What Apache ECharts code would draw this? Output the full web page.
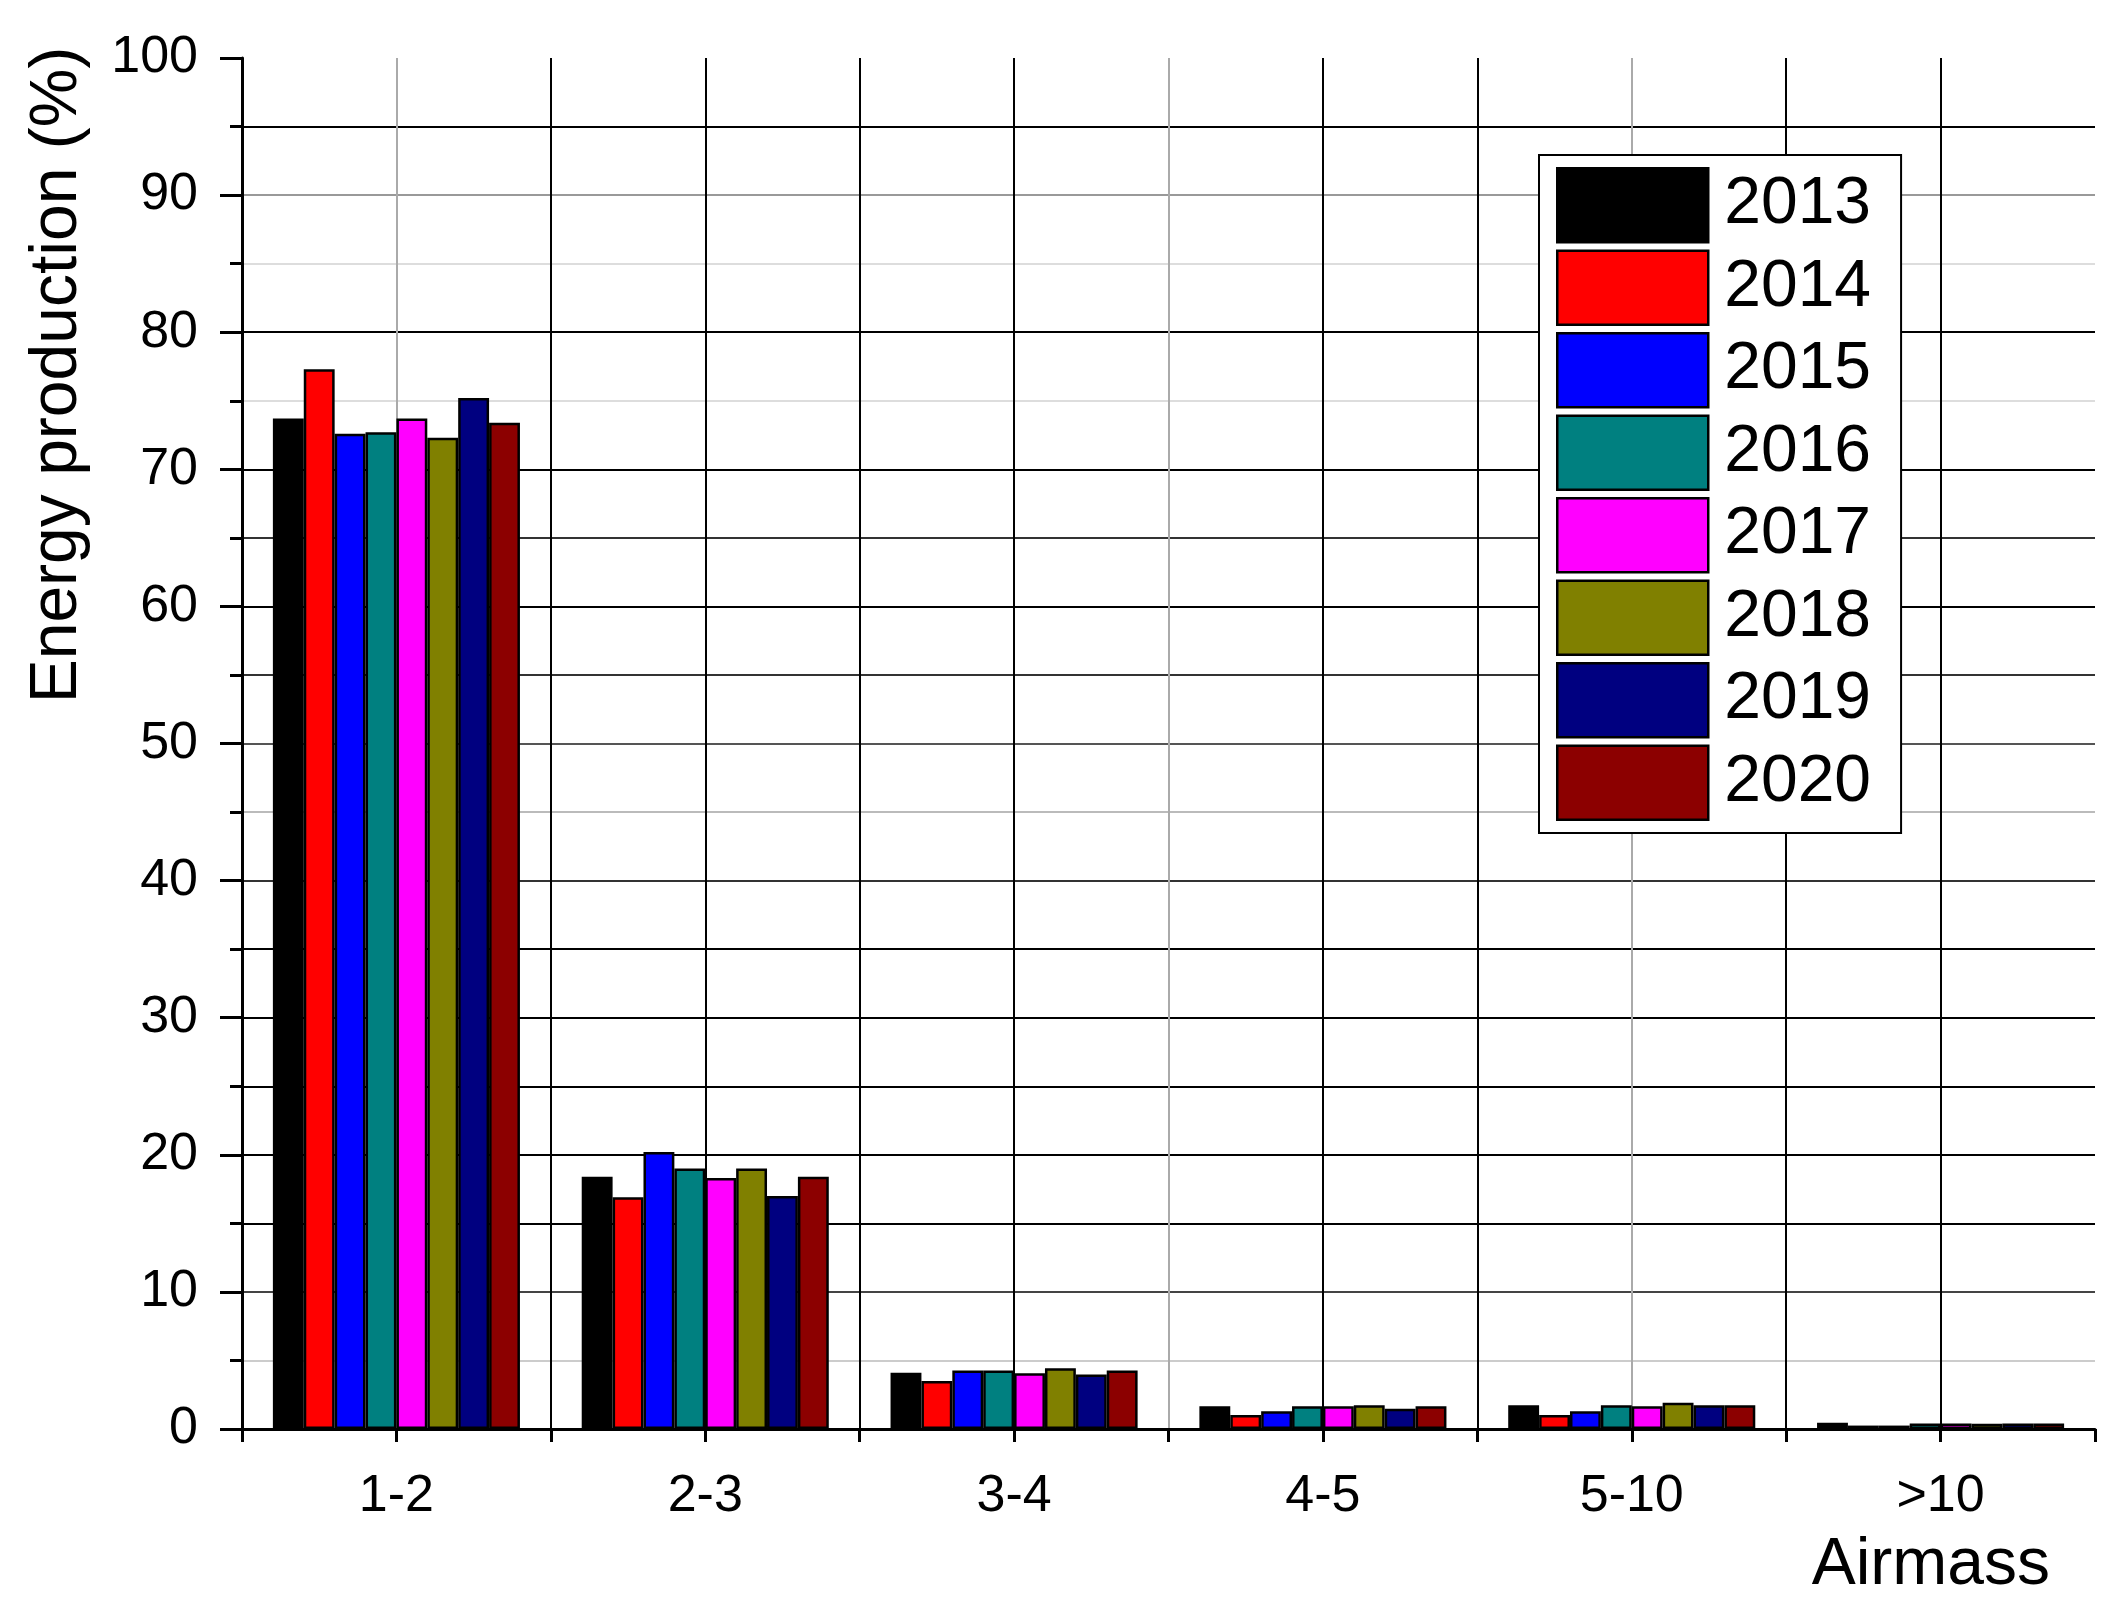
<!DOCTYPE html>
<html>
<head>
<meta charset="utf-8">
<script src="https://cdn.jsdelivr.net/npm/echarts@6/dist/echarts.min.js"></script>
<style>
  html, body { margin: 0; padding: 0; background: #fff; }
  #chart { width: 2111px; height: 1604px; }
</style>
</head>
<body>
<div id="chart"></div>
<script>
// Airmass classes
const categorias = ['1-2', '2-3', '3-4', '4-5', '5-10', '>10'];
const anios = ['2013', '2014', '2015', '2016', '2017', '2018', '2019', '2020'];
const colores = ['#000000', '#ff0000', '#0000ff', '#008080', '#ff00ff', '#808000', '#000080', '#8c0000'];

// Energy production (%) per year, one value per airmass class
const v2013 = [73.7, 18.4, 4.1, 1.66, 1.73, 0.46];
const v2014 = [77.3, 16.9, 3.5, 1.02, 1.02, 0.25];
const v2015 = [72.6, 20.2, 4.27, 1.3, 1.3, 0.25];
const v2016 = [72.7, 19.0, 4.27, 1.66, 1.73, 0.4];
const v2017 = [73.7, 18.3, 4.07, 1.66, 1.66, 0.4];
const v2018 = [72.3, 19.0, 4.44, 1.73, 1.91, 0.38];
const v2019 = [75.2, 17.0, 3.98, 1.48, 1.73, 0.4];
const v2020 = [73.4, 18.4, 4.27, 1.66, 1.73, 0.4];
const valores = [v2013, v2014, v2015, v2016, v2017, v2018, v2019, v2020];

const fuente = "'Liberation Sans', Arial, sans-serif";

const chart = echarts.init(document.getElementById('chart'));

const series = anios.map((anio, i) => ({
    name: anio,
    type: 'bar',
    xAxisIndex: 0,
    yAxisIndex: 0,
    data: valores[i],
    barGap: '0%',
    barCategoryGap: '20%',
    itemStyle: { color: colores[i], borderColor: '#000', borderWidth: 2.5 }
}));

chart.setOption({
    animation: false,
    backgroundColor: '#fff',
    textStyle: { fontFamily: fuente },
    grid: { left: 242, right: 16, top: 58, bottom: 175 },
    // y title sits high on the axis, not centred
    graphic: [{
        type: 'text',
        x: 58,
        y: 375,
        rotation: Math.PI / 2,
        style: {
            text: 'Energy production (%)',
            font: "66px 'Liberation Sans', Arial, sans-serif",
            fill: '#000',
            align: 'center',
            verticalAlign: 'middle'
        }
    }],
    legend: {
        orient: 'vertical',
        left: 1539,
        top: 155,
        data: anios,
        icon: 'rect',
        itemWidth: 151,
        itemHeight: 74,
        itemGap: 6,
        padding: [12, 30, 12, 17],
        borderColor: '#000',
        borderWidth: 2,
        backgroundColor: '#fff',
        itemStyle: { borderColor: '#000', borderWidth: 2.5 },
        textStyle: { fontSize: 66, lineHeight: 74, color: '#000', fontFamily: fuente, padding: [0, 0, 0, 11] }
    },
    xAxis: [
        {
            type: 'category',
            position: 'bottom',
            data: categorias,
            boundaryGap: true,
            name: 'Airmass',
            nameLocation: 'end',
            nameGap: -45,
            nameTextStyle: {
                fontSize: 66, color: '#000', fontFamily: fuente,
                align: 'right', verticalAlign: 'top', padding: [104, 0, 0, 0]
            },
            axisLine: { lineStyle: { color: '#000', width: 3 } },
            axisTick: { alignWithLabel: true, length: 24, lineStyle: { color: '#000', width: 3 } },
            axisLabel: { fontSize: 52, color: '#000', margin: 42, fontFamily: fuente },
            splitLine: { show: false },
            z: 5
        },
        {
            // grid lines on class centres and boundaries
            type: 'value',
            position: 'bottom',
            min: 0,
            max: 12,
            interval: 1,
            axisLine: { show: false },
            axisLabel: { show: false },
            axisTick: { length: 13, lineStyle: { color: '#000', width: 3 } },
            splitLine: {
                show: true,
                lineStyle: {
                    width: 2,
                    color: ['rgba(0,0,0,0)', '#aaaaaa', '#000', '#000', '#000', '#000', '#aaaaaa',
                            '#000', '#000', '#aaaaaa', '#000', '#000', 'rgba(0,0,0,0)']
                }
            }
        }
    ],
    yAxis: [
        {
            type: 'value',
            min: 0,
            max: 100,
            interval: 10,
            axisLine: { show: true, lineStyle: { color: '#000', width: 3 } },
            axisTick: { show: true, length: 22, lineStyle: { color: '#000', width: 3 } },
            minorTick: { show: true, splitNumber: 2, length: 12, lineStyle: { color: '#000', width: 3 } },
            axisLabel: { fontSize: 52, color: '#000', margin: 44, fontFamily: fuente },
            splitLine: { show: false },
            z: 5
        },
        {
            // horizontal grid every 5 %
            type: 'value',
            min: 0,
            max: 100,
            interval: 5,
            axisLine: { show: false },
            axisTick: { show: false },
            axisLabel: { show: false },
            splitLine: {
                show: true,
                lineStyle: {
                    width: 2,
                    color: ['rgba(0,0,0,0)', '#cccccc', '#444', '#000', '#000', '#000', '#000', '#000',
                            '#333', '#bbbbbb', '#555', '#333', '#000', '#333', '#000', '#dddddd',
                            '#000', '#dddddd', '#999999', '#000', 'rgba(0,0,0,0)']
                }
            }
        }
    ],
    series: series
});
</script>
</body>
</html>
